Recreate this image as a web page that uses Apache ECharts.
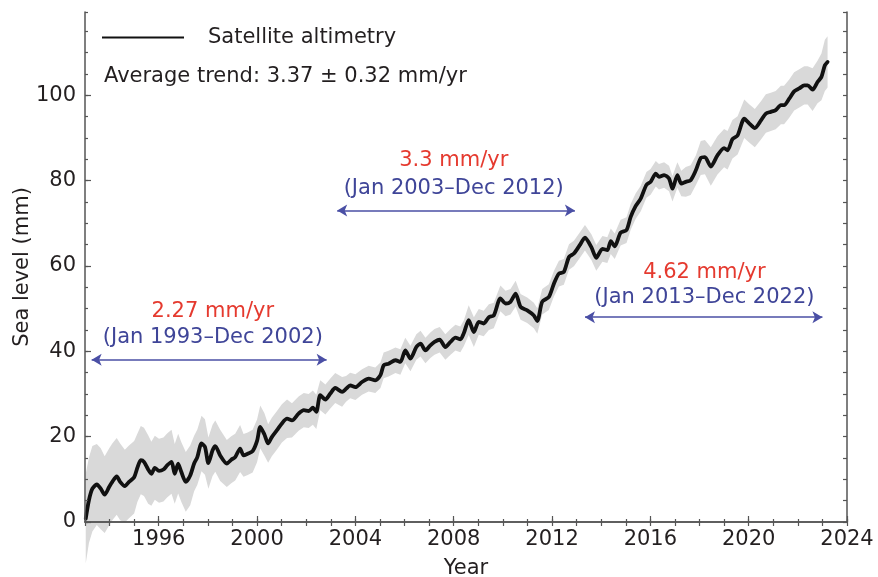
<!DOCTYPE html>
<html>
<head>
<meta charset="utf-8">
<script src="https://cdn.jsdelivr.net/npm/echarts@6.0.0/dist/echarts.min.js"></script>
<style>
  html, body { margin: 0; padding: 0; background: #fff; }
  #chart { width: 878px; height: 577px; }
</style>
</head>
<body>
<div id="chart"></div>
<script>
// Global mean sea level from satellite altimetry (mm), decimal years
const years = [
  1993.03, 1993.16, 1993.30, 1993.48, 1993.64, 1993.80, 1993.98,
  1994.11, 1994.29, 1994.43, 1994.62, 1994.79,
  1995.00, 1995.13, 1995.27, 1995.40, 1995.57, 1995.70, 1995.84,
  1996.01, 1996.19, 1996.35, 1996.52, 1996.65, 1996.79, 1996.92,
  1997.10, 1997.28, 1997.44, 1997.57, 1997.74, 1997.88,
  1998.02, 1998.19, 1998.30, 1998.50, 1998.77, 1998.95,
  1999.11, 1999.31, 1999.45, 1999.62, 1999.82,
  2000.00, 2000.13, 2000.30, 2000.45, 2000.60, 2000.81,
  2001.01, 2001.22, 2001.42, 2001.69, 2001.90,
  2002.10, 2002.27, 2002.41, 2002.57, 2002.78, 2002.98,
  2003.18, 2003.46, 2003.62, 2003.79,
  2004.00, 2004.27, 2004.54, 2004.81,
  2005.02, 2005.15, 2005.35, 2005.63, 2005.83,
  2006.03, 2006.24, 2006.48, 2006.65, 2006.85,
  2007.05, 2007.22, 2007.43, 2007.66, 2007.87,
  2008.07, 2008.27, 2008.41, 2008.61, 2008.82,
  2009.02, 2009.22, 2009.43, 2009.63, 2009.90,
  2010.11, 2010.31, 2010.52, 2010.72, 2010.99,
  2011.26, 2011.40, 2011.60, 2011.87,
  2012.08, 2012.28, 2012.48, 2012.69, 2012.89,
  2013.12, 2013.34, 2013.60, 2013.80,
  2014.05, 2014.25, 2014.39, 2014.55, 2014.79,
  2015.03, 2015.20, 2015.40, 2015.61, 2015.84,
  2016.01, 2016.22, 2016.35, 2016.56, 2016.76, 2016.90,
  2017.10, 2017.26, 2017.44, 2017.64, 2017.85,
  2018.05, 2018.22, 2018.46, 2018.73,
  2019.00, 2019.14, 2019.34, 2019.55, 2019.82,
  2020.02, 2020.25, 2020.50, 2020.70, 2020.90,
  2021.10, 2021.31, 2021.44, 2021.65, 2021.85,
  2022.06, 2022.26, 2022.40, 2022.60, 2022.80, 2022.96,
  2023.10, 2023.21
];

const seaLevelMm = [
  0.8, 5.1, 7.8, 8.8, 7.8, 6.4, 8.2,
  9.4, 10.7, 9.4, 8.4, 9.4,
  10.5, 12.7, 14.5, 14.1, 12.3, 11.3, 12.7,
  12.0, 12.3, 13.3, 14.1, 11.3, 13.7, 11.7,
  9.4, 10.9, 13.7, 15.2, 18.4, 17.6,
  13.8, 16.8, 17.8, 15.6, 13.7, 14.6,
  15.2, 17.2, 15.6, 16.0, 16.6,
  19.0, 22.3, 20.5, 18.4, 19.9, 21.5,
  23.1, 24.2, 23.8, 25.4, 26.2,
  26.0, 26.8, 25.8, 29.7, 28.7, 30.1,
  31.4, 30.5, 31.2, 32.0,
  31.6, 32.8, 33.6, 33.2,
  34.4, 36.7, 37.1, 37.9, 37.5,
  40.2, 38.3, 41.0, 41.8, 40.2,
  41.4, 42.2, 42.7, 41.0, 42.2,
  43.2, 42.8, 44.2, 47.3, 44.5,
  46.9, 46.5, 48.0, 48.4, 52.4,
  51.2, 51.6, 53.5, 50.4, 49.6,
  48.4, 47.1, 51.6, 52.7,
  55.9, 58.2, 58.6, 62.1, 62.9,
  64.8, 66.6, 64.4, 61.9,
  64.0, 63.7, 65.8, 64.6, 67.8,
  68.4, 71.5, 74.0, 75.8, 79.0,
  79.7, 81.6, 80.9, 81.3, 80.5, 78.1,
  81.3, 79.3, 79.7, 80.1, 82.4,
  85.3, 85.5, 83.3, 85.9,
  87.6, 87.1, 89.7, 90.6, 94.5,
  93.4, 92.3, 94.1, 95.7, 96.1,
  96.5, 97.7, 97.7, 99.2, 100.9,
  101.6, 102.3, 102.3, 101.3, 103.1, 104.3,
  107.0, 107.8
];

// Half-width of the uncertainty envelope (mm)
const bandHalfWidth = [
  10.5, 10, 10, 9.5, 9.5, 9, 9,
  9, 9, 9, 8.5, 8.5,
  8.5, 8, 8, 8, 8, 7.5, 7.5,
  7.5, 7.5, 7.5, 7.5, 7, 7, 7,
  7, 7, 6.5, 6.5, 6.5, 6.5,
  6, 6, 6, 6, 5.5, 5.5,
  5.5, 5.5, 5, 5, 5,
  5, 5, 5, 4.5, 4.5, 4.5,
  4.5, 4.5, 4, 4, 4,
  4, 4, 4, 3.5, 3.5, 3.5,
  3.5, 3.5, 3, 3,
  3, 3, 3, 3,
  3, 3, 3, 3, 3,
  3, 3, 3, 3, 3,
  3, 3, 3, 3, 3,
  3, 3, 3, 3.5, 3.5,
  3, 3, 3, 3, 3,
  3, 3, 3, 3, 3,
  3, 3, 3, 3,
  3, 3, 3, 3, 3,
  3, 3, 3, 3,
  3, 3, 3, 3, 3,
  3, 3, 3, 3, 3,
  3, 3, 3, 3, 3, 3,
  3, 3, 3.5, 3.5, 3.5,
  4, 4, 4.5, 4.5,
  4.5, 4.5, 4.5, 4.5, 4.5,
  4.5, 4.5, 4.5, 4.5, 4.5,
  4.5, 4.5, 4.5, 4.5, 4.5,
  4.5, 4.5, 4.5, 5, 5, 5.5,
  6, 6
];

// Trend periods: start/end of arrow (decimal year), arrow level (mm)
const periodStart = [1993.27, 2003.26, 2013.34];
const periodEnd = [2002.83, 2012.93, 2023.0];
const arrowLevel = [38.0, 73.0, 48.0];
const rateLabels = ['2.27 mm/yr', '3.3 mm/yr', '4.62 mm/yr'];
const periodLabels = ['(Jan 1993\u2013Dec 2002)', '(Jan 2003\u2013Dec 2012)', '(Jan 2013\u2013Dec 2022)'];
// Where each pair of labels is centred: year, rate line level, period line level (mm)
const labelYear = [1998.2, 2008.0, 2018.2];
const rateLabelLevel = [49.4, 84.6, 58.4];
const periodLabelLevel = [43.3, 78.1, 52.7];

const xTickLabels = [1996, 2000, 2004, 2008, 2012, 2016, 2020, 2024];
const yTickLabels = [0, 20, 40, 60, 80, 100];

const FONT = 'DejaVu Sans';
const AXIS_COLOR = '#555555';
const TEXT_COLOR = '#231f20';
const RED = '#e53a2f';
const BLUE = '#3f4598';
const X_MIN = 1993, X_MAX = 2024, Y_MIN = 0, Y_MAX = 119.5;

const chart = echarts.init(document.getElementById('chart'), null, { renderer: 'canvas' });

const seriesData = years.map((y, i) => [y, seaLevelMm[i]]);
const bandData = years.map((y, i) => [y, seaLevelMm[i] - bandHalfWidth[i], seaLevelMm[i] + bandHalfWidth[i]]);

const baseX = {
  type: 'value', min: X_MIN, max: X_MAX, gridIndex: 0, z: 10,
  splitLine: { show: false }
};
const baseY = {
  type: 'value', min: Y_MIN, max: Y_MAX, gridIndex: 0, z: 10,
  splitLine: { show: false }
};

const markPoints = [];
for (let i = 0; i < rateLabels.length; i++) {
  markPoints.push({
    coord: [labelYear[i], rateLabelLevel[i]],
    label: { formatter: rateLabels[i], color: RED }
  });
  markPoints.push({
    coord: [labelYear[i], periodLabelLevel[i]],
    label: { formatter: periodLabels[i], color: BLUE }
  });
}

const markLines = periodStart.map((s, i) => [
  { coord: [s, arrowLevel[i]] },
  { coord: [periodEnd[i], arrowLevel[i]] }
]);

const plainNumber = (v) => String(Math.round(v));

const option = {
  backgroundColor: '#ffffff',
  animation: false,
  textStyle: { fontFamily: FONT },
  grid: {
    left: 85, right: 31, top: 12, bottom: 55,
    containLabel: false,
    outerBoundsMode: 'none'
  },
  title: {
    text: 'Average trend: 3.37 \u00b1 0.32 mm/yr',
    left: 104, top: 66, padding: 0,
    textStyle: { fontFamily: FONT, fontSize: 21, fontWeight: 'normal', color: TEXT_COLOR }
  },
  legend: {
    left: 102, top: 27, padding: 0,
    data: ['Satellite altimetry'],
    icon: 'rect', itemWidth: 82, itemHeight: 2,
    itemStyle: { color: '#111111' },
    textStyle: { fontFamily: FONT, fontSize: 21, color: TEXT_COLOR, padding: [0, 0, 0, 19] }
  },
  xAxis: [
    Object.assign({}, baseX, {
      position: 'bottom', interval: 1,
      axisLine: { show: true, lineStyle: { color: AXIS_COLOR, width: 1.5 } },
      axisTick: { show: true, inside: true, length: 3, lineStyle: { color: AXIS_COLOR, width: 1.2 } },
      axisLabel: { show: false }
    }),
    Object.assign({}, baseX, {
      position: 'bottom',
      axisLine: { show: false },
      axisTick: { show: true, inside: true, length: 6, customValues: xTickLabels, lineStyle: { color: AXIS_COLOR, width: 1.2 } },
      axisLabel: { show: true, customValues: xTickLabels, formatter: plainNumber, fontFamily: FONT, fontSize: 21, color: TEXT_COLOR, margin: 7 },
      name: 'Year', nameLocation: 'middle', nameGap: 36, nameMoveOverlap: false,
      nameTextStyle: { fontFamily: FONT, fontSize: 21, color: TEXT_COLOR }
    }),
    Object.assign({}, baseX, {
      position: 'top', interval: 1,
      axisLine: { show: true, lineStyle: { color: AXIS_COLOR, width: 1.5 } },
      axisTick: { show: true, inside: true, length: 4, lineStyle: { color: AXIS_COLOR, width: 1.2 } },
      axisLabel: { show: false }
    })
  ],
  yAxis: [
    Object.assign({}, baseY, {
      position: 'left', interval: 5,
      axisLine: { show: true, lineStyle: { color: AXIS_COLOR, width: 1.5 } },
      axisTick: { show: true, inside: true, length: 3, lineStyle: { color: AXIS_COLOR, width: 1.2 } },
      axisLabel: { show: false }
    }),
    Object.assign({}, baseY, {
      position: 'left',
      axisLine: { show: false },
      axisTick: { show: true, inside: true, length: 6, customValues: yTickLabels, lineStyle: { color: AXIS_COLOR, width: 1.2 } },
      axisLabel: { show: true, customValues: yTickLabels, formatter: plainNumber, fontFamily: FONT, fontSize: 21, color: TEXT_COLOR, margin: 9 },
      name: 'Sea level (mm)', nameLocation: 'middle', nameGap: 52, nameRotate: 90, nameMoveOverlap: false,
      nameTextStyle: { fontFamily: FONT, fontSize: 21, color: TEXT_COLOR }
    }),
    Object.assign({}, baseY, {
      position: 'right', interval: 5,
      axisLine: { show: true, lineStyle: { color: AXIS_COLOR, width: 1.5 } },
      axisTick: { show: true, inside: true, length: 4, lineStyle: { color: AXIS_COLOR, width: 1.2 } },
      axisLabel: { show: false }
    })
  ],
  series: [
    {
      name: 'uncertainty',
      type: 'custom',
      xAxisIndex: 0, yAxisIndex: 0,
      silent: true, clip: false, z: 1,
      data: bandData,
      encode: { x: 0, y: [1, 2] },
      renderItem: function (params, api) {
        if (params.dataIndex !== 0) return null;
        const upper = [], lower = [];
        for (let i = 0; i < bandData.length; i++) {
          upper.push(api.coord([bandData[i][0], bandData[i][2]]));
          lower.push(api.coord([bandData[i][0], bandData[i][1]]));
        }
        return {
          type: 'polygon',
          shape: { points: upper.concat(lower.reverse()) },
          style: { fill: '#d9d9d9', stroke: null }
        };
      }
    },
    {
      name: 'Satellite altimetry',
      type: 'line',
      xAxisIndex: 0, yAxisIndex: 0,
      data: seriesData,
      showSymbol: false, symbol: 'none',
      smooth: 0.25,
      z: 3,
      lineStyle: { color: '#111111', width: 3.8, join: 'round', cap: 'round' },
      itemStyle: { color: '#111111' },
      markLine: {
        silent: true,
        symbol: ['arrow', 'arrow'],
        symbolSize: [9, 10],
        lineStyle: { color: '#4a4fa5', width: 1.5, type: 'solid' },
        label: { show: false },
        emphasis: { disabled: true },
        data: markLines
      },
      markPoint: {
        silent: true,
        symbol: 'circle', symbolSize: 0,
        label: {
          show: true, position: 'inside',
          fontFamily: FONT, fontSize: 21
        },
        data: markPoints
      }
    }
  ]
};

chart.setOption(option);
</script>
</body>
</html>
